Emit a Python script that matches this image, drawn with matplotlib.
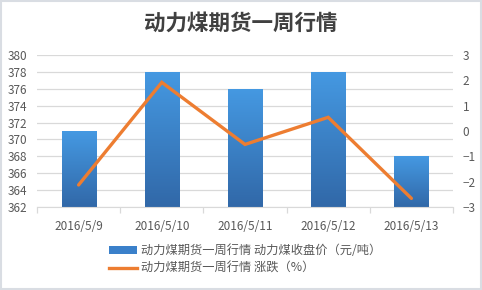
import matplotlib.pyplot as plt
import numpy as np
from matplotlib.patches import Rectangle
from matplotlib.lines import Line2D
from matplotlib.colors import LinearSegmentedColormap

plt.rcParams['font.family'] = ['Noto Sans CJK SC', 'DejaVu Sans']

# data
dates = ['2016/5/9', '2016/5/10', '2016/5/11', '2016/5/12', '2016/5/13']
close_price = [371, 378, 376, 378, 368]
change_pct = [-2.13, 1.92, -0.53, 0.54, -2.66]
title = '动力煤期货一周行情'
bar_label = '动力煤期货一周行情 动力煤收盘价（元/吨）'
line_label = '动力煤期货一周行情 涨跌（%）'

fig = plt.figure(figsize=(4.82, 2.90), dpi=100)
fig.patch.set_facecolor('white')
# thin grey frame around the chart
fig.add_artist(Rectangle((0.002, 0.003), 0.995, 0.994, transform=fig.transFigure,
                         fill=False, edgecolor='#D9DDE3', linewidth=1.5))

ax = fig.add_axes([37 / 482, 1 - 207 / 290, 416 / 482, 152 / 290])
ax2 = ax.twinx()

x = np.arange(len(dates))
bar_w = 0.41
ax.set_ylim(362, 380)
ax.set_yticks(np.arange(362, 381, 2))
ax.grid(axis='y', color='#D9D9D9', linewidth=0.9)
ax.set_axisbelow(True)

# gradient bars
cmap = LinearSegmentedColormap.from_list('bluegrad', ['#3168A8', '#4599E2'])
grad = np.linspace(0, 1, 256).reshape(-1, 1)
bars = ax.bar(x, [v - 362 for v in close_price], bottom=362, width=bar_w,
              color='none', edgecolor='none', zorder=2)
for b in bars:
    x0, y0 = b.get_x(), b.get_y()
    w, h = b.get_width(), b.get_height()
    im = ax.imshow(grad, cmap=cmap, origin='lower', aspect='auto',
                   extent=[x0, x0 + w, y0, y0 + h], zorder=2)
    im.set_clip_path(b)
ax.set_xlim(-0.5, len(dates) - 0.5)
ax.set_ylim(362, 380)

ax2.plot(x, change_pct, color='#ED7D31', linewidth=2.4, solid_capstyle='round',
         solid_joinstyle='miter', zorder=3)
ax2.set_ylim(-3, 3)
ax2.set_yticks(np.arange(-3, 4, 1))

for a in (ax, ax2):
    for s in a.spines.values():
        s.set_visible(False)
ax.spines['bottom'].set_visible(True)
ax.spines['bottom'].set_color('#D9D9D9')

ax.set_xticks(x)
ax.set_xticklabels(dates)
ax.set_xticks(np.arange(-0.5, len(dates), 1), minor=True)
ax.tick_params(axis='x', which='major', length=0, pad=9, labelsize=8.5, labelcolor='#595959')
ax.tick_params(axis='x', which='minor', length=4, color='#D9D9D9', width=0.9)
ax.tick_params(axis='y', length=0, pad=7, labelsize=8.5, labelcolor='#595959')
ax2.tick_params(axis='y', length=0, pad=7, labelsize=8.5, labelcolor='#595959')

fig.text(0.5, 1 - 23 / 290, title, ha='center', va='center', fontsize=15.5,
         fontweight='bold', color='#404040')

handles = [Rectangle((0, 0), 1, 1, facecolor='#3A80CA', edgecolor='none'),
           Line2D([0], [0], color='#ED7D31', linewidth=2.4)]
fig.legend(handles, [bar_label, line_label], loc='upper left',
           bbox_to_anchor=(109 / 482, 1 - 244 / 290), frameon=False,
           fontsize=8.8, labelcolor='#595959', handlelength=2.3,
           handleheight=0.6, handletextpad=0.35, labelspacing=0.4,
           borderpad=0, borderaxespad=0)

fig.savefig('out.png', dpi=100)
